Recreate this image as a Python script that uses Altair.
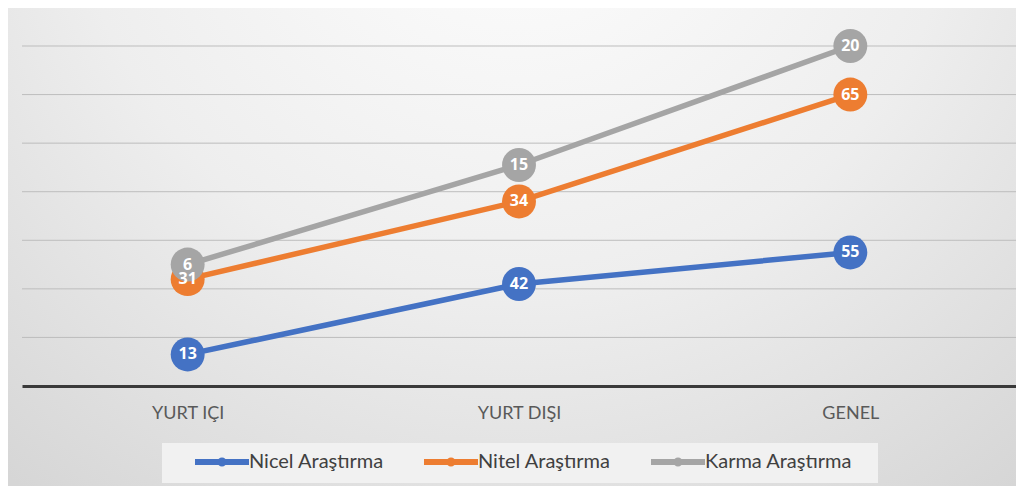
import altair as alt
import pandas as pd

categories = ["YURT IÇI", "YURT DIŞI", "GENEL"]
series = ["Nicel Araştırma", "Nitel Araştırma", "Karma Araştırma"]
nicel = [13, 42, 55]
nitel = [31, 34, 65]
karma = [6, 15, 20]
colors = ["#4472C4", "#ED7D31", "#A5A5A5"]
grid_values = [20, 40, 60, 80, 100, 120, 140]

rows = []
for si, (name, vals) in enumerate(zip(series, [nicel, nitel, karma])):
    for cat, v in zip(categories, vals):
        rows.append({"cat": cat, "series": name, "order": si, "value": v})
df = pd.DataFrame(rows)
grid_df = pd.DataFrame({"g": grid_values})

FONT = "Lato"

# legend symbol: thick line with a small marker in the middle
legend_path = ("M-1,-0.6H9.8V0.6H-1Z "
               "M5.3,0A0.9,0.9,0,1,1,3.5,0A0.9,0.9,0,1,1,5.3,0Z")

color_scale = alt.Scale(domain=series, range=colors)
y_scale = alt.Scale(domain=[0, 140], nice=False)
x_enc = alt.X("cat:N", sort=categories, title=None,
              scale=alt.Scale(type="point", padding=0.5),
              axis=alt.Axis(labelAngle=0, ticks=False, domainColor="#3a3a3a",
                            domainWidth=3, labelColor="#595959", labelFontSize=18,
                            labelFont=FONT, labelPadding=18, grid=False, zindex=1))
y_enc = alt.Y("cum:Q", title=None, scale=y_scale, axis=None)

base = alt.Chart(df).transform_window(
    cum="sum(value)", groupby=["cat"], sort=[alt.SortField("order")],
    frame=[None, 0]
)

bg = alt.Chart(alt.Data(values=[{"a": 1}])).mark_rect(
    fill=alt.RadialGradient(
        gradient="radial",
        stops=[alt.GradientStop(offset=0, color="#ffffff"),
               alt.GradientStop(offset=0.55, color="#eeeeee"),
               alt.GradientStop(offset=1, color="#d6d6d6")],
        x1=0.5, y1=0.1, x2=0.5, y2=0.1, r1=0, r2=0.8)
).encode(x=alt.value(-14), x2=alt.value(1002), y=alt.value(-38), y2=alt.value(444))

legend_box = alt.Chart(alt.Data(values=[{"a": 1}])).mark_rect(fill="#f1f1f1").encode(
    x=alt.value(140), x2=alt.value(856), y=alt.value(397), y2=alt.value(437)
)

grid = alt.Chart(grid_df).mark_rule(color="#bdbdbd", strokeWidth=1).encode(
    y=alt.Y("g:Q", scale=y_scale, axis=None)
)

lines = base.mark_line(strokeWidth=5.5).encode(
    x=x_enc, y=y_enc,
    color=alt.Color("series:N", scale=color_scale, sort=series,
                    legend=alt.Legend(title=None, orient="none", legendX=168, legendY=406,
                                      direction="horizontal", padding=0,
                                      symbolType=legend_path,
                                      symbolSize=100, symbolStrokeWidth=0,
                                      labelFont=FONT, labelFontSize=20,
                                      labelColor="#404040", labelOffset=39,
                                      columnPadding=35)),
    detail="series:N",
)

points = base.mark_circle(size=1150, opacity=1).encode(
    x=x_enc, y=y_enc,
    color=alt.Color("series:N", scale=color_scale, sort=series, legend=None),
    order=alt.Order("order:Q"),
)

labels = base.mark_text(color="white", fontWeight="bold", fontSize=16,
                        font="Open Sans").encode(
    x=x_enc, y=y_enc, text="value:Q"
)

chart = alt.layer(bg, legend_box, grid, lines, points, labels).properties(
    width=994, height=340,
    padding={"left": 14, "top": 38, "right": 0, "bottom": 100},
    autosize=alt.AutoSizeParams(type="none"),
    background="#dcdcdc",
).configure_view(stroke=None)

chart.save("out.html", embed_options={"renderer": "svg", "actions": False})
